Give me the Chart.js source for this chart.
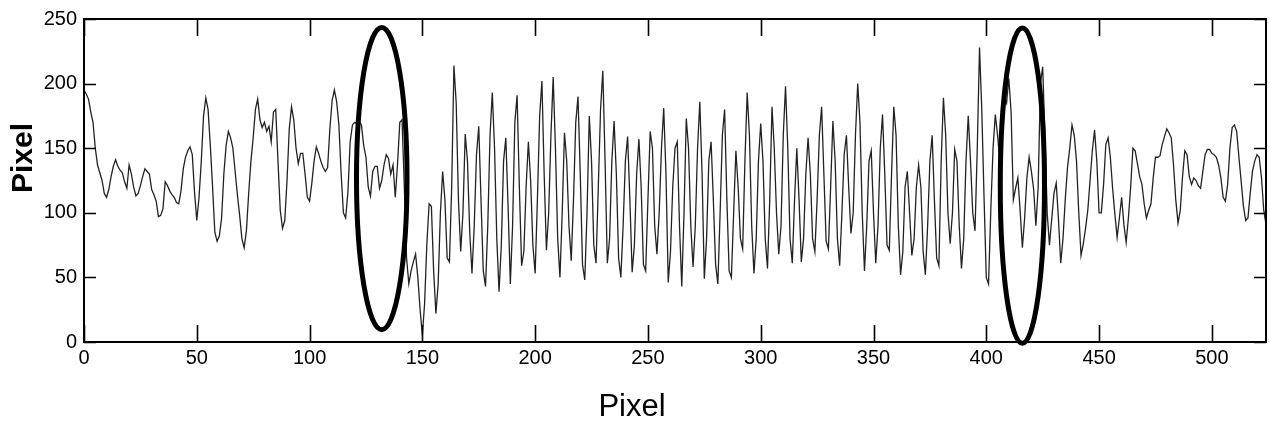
<!DOCTYPE html>
<html>
<head>
<meta charset="utf-8">
<script src="https://cdn.jsdelivr.net/npm/chart.js@4.4.0/dist/chart.umd.min.js"></script>
<style>
  html, body { margin: 0; padding: 0; background: #fff; }
  #wrap { width: 1270px; height: 427px; position: relative; }
</style>
</head>
<body>
<div id="wrap"><canvas id="profile-chart"></canvas></div>
<script>
// Intensity profile along one image row
const pixelValues = [
  195, 192, 188, 178, 170, 150, 137, 131, 125, 115,
  112, 118, 128, 136, 141, 136, 133, 131, 124, 119,
  137, 130, 120, 113, 115, 121, 128, 134, 132, 130,
  118, 114, 109, 97, 98, 103, 124, 121, 117, 114,
  112, 108, 107, 117, 134, 143, 148, 151, 145, 116,
  94, 112, 140, 175, 189, 180, 152, 120, 85, 78,
  82, 96, 130, 152, 163, 158, 150, 132, 114, 98,
  80, 73, 86, 115, 140, 158, 180, 188, 172, 166,
  170, 163, 167, 155, 178, 180, 140, 102, 88, 94,
  125, 165, 182, 172, 150, 138, 146, 146, 130, 112,
  109, 123, 140, 151, 146, 140, 135, 132, 135, 165,
  187, 195, 186, 168, 130, 100, 96, 116, 155, 168,
  170, 169, 171, 168, 152, 143, 120, 113, 132, 136,
  136, 119, 125, 137, 145, 142, 130, 137, 112, 138,
  170, 172, 120, 65, 45, 55, 62, 68, 50, 25,
  5, 30, 76, 107, 105, 55, 22, 45, 100, 132,
  110, 65, 62, 120, 214, 185, 110, 70, 100, 161,
  140, 85, 53, 90, 145, 167, 110, 55, 43, 90,
  160, 193, 150, 80, 39, 75, 140, 158, 105, 45,
  90, 170, 191, 120, 59, 70, 120, 155, 125, 75,
  53, 110, 175, 202, 130, 71, 100, 160, 205, 150,
  80, 50, 100, 162, 140, 90, 63, 110, 170, 190,
  130, 60, 48, 100, 175, 140, 75, 61, 120, 180,
  210, 140, 61, 80, 140, 171, 130, 65, 50, 90,
  140, 159, 110, 54, 75, 130, 157, 120, 60, 55,
  110, 163, 150, 90, 68, 100, 150, 181, 130, 46,
  70, 120, 150, 155, 90, 43, 100, 173, 150, 90,
  58, 90, 150, 186, 130, 49, 80, 140, 155, 110,
  60, 45, 100, 160, 180, 110, 55, 50, 100, 148,
  120, 80, 72, 140, 193, 160, 90, 53, 80, 140,
  169, 140, 80, 57, 110, 182, 150, 100, 68, 90,
  160, 198, 150, 80, 61, 110, 150, 110, 62, 80,
  130, 158, 130, 80, 70, 110, 160, 182, 130, 78,
  72, 120, 171, 140, 80, 59, 100, 145, 160, 120,
  84, 100, 160, 200, 170, 100, 55, 90, 140, 148,
  100, 61, 90, 150, 176, 130, 75, 71, 130, 182,
  160, 90, 52, 70, 120, 132, 100, 67, 80, 120,
  137, 120, 70, 52, 90, 140, 160, 110, 65, 59,
  140, 189, 160, 100, 76, 100, 149, 140, 90, 57,
  80, 140, 175, 140, 100, 86, 150, 228, 180, 112,
  50, 45, 102, 150, 176, 160, 140, 165, 190, 185,
  204, 178, 110, 119, 127, 102, 73, 96, 127, 143,
  132, 118, 90, 120, 200, 213, 160, 100, 75, 95,
  115, 123, 95, 61, 80, 110, 135, 150, 168, 160,
  140, 100, 67, 76, 88, 102, 125, 148, 164, 140,
  100, 100, 122, 153, 158, 143, 119, 99, 81, 96,
  112, 91, 77, 96, 120, 150, 148, 138, 128, 122,
  107, 96, 102, 107, 127, 143, 143, 144, 153, 159,
  165, 162, 158, 137, 110, 92, 102, 128, 148, 145,
  128, 122, 127, 125, 121, 119, 132, 145, 149, 149,
  146, 145, 143, 137, 127, 112, 109, 122, 150, 166,
  168, 163, 143, 124, 105, 94, 96, 115, 132, 140,
  145, 143, 127, 102, 91
];

const xTickValues = [0, 50, 100, 150, 200, 250, 300, 350, 400, 450, 500];
const yTickValues = [0, 50, 100, 150, 200, 250];
const xAxisTitle = 'Pixel';
const yAxisTitle = 'Pixel';

// hand-drawn ellipses marking the two edge regions (data units)
const ellipseCenterX = [132, 416];
const ellipseCenterY = [126.5, 121];
const ellipseRadiusX = [11.2, 9.8];
const ellipseRadiusY = [117, 122];

const FONT = "'Liberation Sans', Arial, sans-serif";

// box frame, inward ticks on all four sides, ellipses and axis titles
const matlabFrame = {
  id: 'matlabFrame',
  afterDatasetsDraw(chart) {
    const { ctx, chartArea: a, scales: { x, y } } = chart;
    ctx.save();
    ctx.strokeStyle = '#000';
    ctx.lineWidth = 1.6;
    ctx.beginPath();
    xTickValues.forEach(v => {
      const px = Math.round(x.getPixelForValue(v)) + 0.5;
      ctx.moveTo(px, a.bottom); ctx.lineTo(px, a.bottom - 17);
      ctx.moveTo(px, a.top); ctx.lineTo(px, a.top + 17);
    });
    yTickValues.forEach(v => {
      const py = Math.round(y.getPixelForValue(v)) + 0.5;
      ctx.moveTo(a.left, py); ctx.lineTo(a.left + 12, py);
      ctx.moveTo(a.right, py); ctx.lineTo(a.right - 12, py);
    });
    ctx.stroke();
    ctx.lineWidth = 2;
    ctx.strokeRect(a.left, a.top, a.right - a.left, a.bottom - a.top);

    ctx.lineWidth = 5;
    ellipseCenterX.forEach((cx, i) => {
      const px = x.getPixelForValue(cx);
      const py = y.getPixelForValue(ellipseCenterY[i]);
      const rx = x.getPixelForValue(cx + ellipseRadiusX[i]) - px;
      const ry = py - y.getPixelForValue(ellipseCenterY[i] + ellipseRadiusY[i]);
      ctx.beginPath();
      ctx.ellipse(px, py, rx, ry, 0, 0, Math.PI * 2);
      ctx.stroke();
    });

    ctx.fillStyle = '#000';
    ctx.textAlign = 'center';
    ctx.textBaseline = 'middle';
    ctx.font = `31px ${FONT}`;
    ctx.fillText(xAxisTitle, 632, 407);
    ctx.translate(24, 158);
    ctx.rotate(-Math.PI / 2);
    ctx.font = `bold 30px ${FONT}`;
    ctx.fillText(yAxisTitle, 0, 0);
    ctx.restore();
  }
};

new Chart(document.getElementById('profile-chart'), {
  type: 'line',
  data: {
    datasets: [{
      data: pixelValues.map((v, i) => ({ x: i, y: v })),
      borderColor: '#222',
      borderWidth: 1.3,
      pointRadius: 0,
      tension: 0,
      fill: false,
    }],
  },
  options: {
    responsive: true, maintainAspectRatio: false, animation: false,
    layout: { padding: { top: 17, right: 4, left: 0, bottom: 0 } },
    plugins: { legend: { display: false }, tooltip: { enabled: false } },
    scales: {
      x: {
        type: 'linear', min: 0, max: 524,
        afterBuildTicks: s => { s.ticks = xTickValues.map(v => ({ value: v })); },
        afterFit: s => { s.height = 85; },
        grid: { display: false, drawTicks: false },
        border: { display: false },
        ticks: { color: '#000', padding: 4, font: { family: FONT, size: 20 }, maxRotation: 0 },
      },
      y: {
        min: 0, max: 250,
        afterBuildTicks: s => { s.ticks = yTickValues.map(v => ({ value: v })); },
        afterFit: s => { s.width = 84; },
        grid: { display: false, drawTicks: false },
        border: { display: false },
        ticks: { color: '#000', padding: 7, font: { family: FONT, size: 20 } },
      },
    },
  },
  plugins: [matlabFrame],
});
</script>
</body>
</html>
